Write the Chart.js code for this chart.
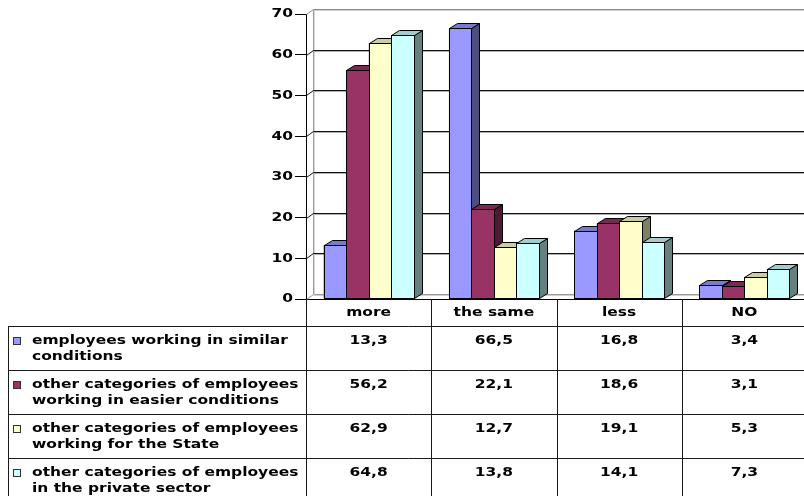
<!DOCTYPE html>
<html>
<head>
<meta charset="utf-8">
<script src="https://cdn.jsdelivr.net/npm/chart.js@4.4.1/dist/chart.umd.min.js"></script>
<style>
html,body{margin:0;padding:0;overflow:hidden;background:#fff;width:804px;height:496px}
canvas{display:block}
</style>
</head>
<body>
<canvas id="c" width="808" height="496"></canvas>
<script>
// ---- data ----
const categories = ['more', 'the same', 'less', 'NO'];
const seriesNames = [
  ['employees working in similar', 'conditions'],
  ['other categories of employees', 'working in easier conditions'],
  ['other categories of employees', 'working for the State'],
  ['other categories of employees', 'in the private sector']
];
const similarConditions = [13.3, 66.5, 16.8, 3.4];
const easierConditions  = [56.2, 22.1, 18.6, 3.1];
const workingForState   = [62.9, 12.7, 19.1, 5.3];
const privateSector     = [64.8, 13.8, 14.1, 7.3];
const yMin = 0, yMax = 70, yStep = 10;
const seriesColors = ['#9999FF', '#993366', '#FFFFCC', '#CCFFFF'];

// ---- helpers ----
function shade(hex, f) {
  const n = parseInt(hex.slice(1), 16);
  const r = Math.round(((n >> 16) & 255) * f), g = Math.round(((n >> 8) & 255) * f), b = Math.round((n & 255) * f);
  return 'rgb(' + r + ',' + g + ',' + b + ')';
}
const FONT = 'bold 13px "DejaVu Sans"';
const SX = 1.19;
function sText(ctx, s, x, y, align) {
  ctx.save();
  ctx.translate(x, y);
  ctx.scale(SX, 1);
  ctx.font = FONT;
  ctx.fillStyle = '#000';
  ctx.textAlign = align;
  ctx.textBaseline = 'middle';
  ctx.fillText(s, 0, 0);
  ctx.restore();
}
function fmt(v) { return v.toFixed(1).replace('.', ','); }

const seriesValues = [similarConditions, easierConditions, workingForState, privateSector];

const threeD = {
  id: 'threeD',
  beforeDatasetsDraw(chart) {
    const { ctx, chartArea: a, scales: { y } } = chart;
    const dx = 7, dy = 5;
    ctx.save();
    ctx.lineWidth = 1;
    const y0 = Math.round(y.getPixelForValue(0)) + 0.5;
    const yT = Math.round(y.getPixelForValue(yMax)) + 0.5;
    const L = a.left + 0.5;
    // floor
    ctx.strokeStyle = '#9a9a9a';
    ctx.beginPath();
    ctx.moveTo(L, y0); ctx.lineTo(L + dx, y0 - dy); ctx.lineTo(a.right + dx + 2, y0 - dy);
    ctx.stroke();
    ctx.strokeStyle = '#d0d0d0';
    ctx.beginPath(); ctx.moveTo(L + dx, y0 - dy + 1); ctx.lineTo(a.right + dx + 2, y0 - dy + 1); ctx.stroke();
    // left edge of back wall
    ctx.strokeStyle = '#9a9a9a';
    ctx.beginPath(); ctx.moveTo(L + dx, yT - dy); ctx.lineTo(L + dx, y0 - dy); ctx.stroke();
    ctx.strokeStyle = '#d8d8d8';
    ctx.beginPath(); ctx.moveTo(L + dx + 1, yT - dy); ctx.lineTo(L + dx + 1, y0 - dy); ctx.stroke();
    // grid lines on back wall
    y.ticks.forEach(t => {
      if (t.value === yMin) return;
      const py = Math.round(y.getPixelForValue(t.value)) + 0.5;
      const top = t.value === yMax;
      ctx.strokeStyle = top ? '#8c8c8c' : '#111';
      ctx.beginPath();
      ctx.moveTo(L, py); ctx.lineTo(L + dx, py - dy); ctx.lineTo(a.right + dx + 2, py - dy);
      ctx.stroke();
      ctx.strokeStyle = top ? '#d0d0d0' : '#b0b0b0';
      ctx.beginPath(); ctx.moveTo(L + dx, py - dy + 1); ctx.lineTo(a.right + dx + 2, py - dy + 1); ctx.stroke();
    });
    ctx.restore();
  },
  afterDatasetsDraw(chart) {
    const ctx = chart.ctx;
    const dx = 8, dy = 5;
    ctx.save();
    ctx.lineWidth = 1;
    ctx.strokeStyle = '#000';
    ctx.lineJoin = 'miter';
    for (let i = 0; i < categories.length; i++) {
      for (let s = 0; s < seriesValues.length; s++) {
        const bar = chart.getDatasetMeta(s).data[i];
        const base = seriesColors[s];
        const p = bar.getProps(['x', 'y', 'base', 'width'], true);
        const l = Math.round(p.x - p.width / 2) + 0.5, r = Math.round(p.x + p.width / 2) + 0.5;
        const t = Math.round(p.y) + 0.5, b = Math.round(p.base) - 0.5;
        // front
        ctx.fillStyle = base;
        ctx.fillRect(l, t, r - l, b - t);
        ctx.strokeRect(l, t, r - l, b - t);
        // side
        ctx.fillStyle = shade(base, 0.5);
        ctx.beginPath();
        ctx.moveTo(r, t); ctx.lineTo(r + dx, t - dy); ctx.lineTo(r + dx, b - dy); ctx.lineTo(r, b); ctx.closePath();
        ctx.fill(); ctx.stroke();
        // top
        ctx.fillStyle = shade(base, 0.8);
        ctx.beginPath();
        ctx.moveTo(l, t); ctx.lineTo(l + dx, t - dy); ctx.lineTo(r + dx, t - dy); ctx.lineTo(r, t); ctx.closePath();
        ctx.fill(); ctx.stroke();
      }
    }
    ctx.restore();
  },
  afterDraw(chart) {
    const { ctx, chartArea: a, scales: { x, y } } = chart;
    ctx.save();
    // y tick labels
    y.ticks.forEach(t => {
      sText(ctx, String(t.value), a.left - 13, y.getPixelForValue(t.value), 'right');
    });
    // data table
    const n = categories.length;
    const catW = (x.right - x.left) / n;
    const tableLeft = 8.5;
    const headTop = Math.round(y.getPixelForValue(0));
    const headBottom = headTop + 27;
    const rowH = 44;
    const bottom = chart.height + 2;
    ctx.strokeStyle = '#1a1a1a';
    ctx.lineWidth = 1;
    for (let i = 0; i < seriesNames.length; i++) {
      const ly = headBottom + i * rowH + 0.5;
      ctx.beginPath(); ctx.moveTo(tableLeft, ly); ctx.lineTo(x.right + 2, ly); ctx.stroke();
    }
    ctx.beginPath(); ctx.moveTo(tableLeft, headBottom); ctx.lineTo(tableLeft, bottom); ctx.stroke();
    for (let i = 0; i <= n; i++) {
      const vx = Math.round(x.left + i * catW) + 0.5;
      ctx.beginPath(); ctx.moveTo(vx, headTop); ctx.lineTo(vx, bottom); ctx.stroke();
    }
    categories.forEach((c, i) => {
      sText(ctx, c, x.getPixelForValue(i), headTop + 14, 'center');
    });
    seriesNames.forEach((lines, s) => {
      const rt = headBottom + s * rowH;
      const l1 = rt + 15, l2 = rt + 31;
      ctx.fillStyle = seriesColors[s];
      ctx.fillRect(13, l1 - 4, 8, 8);
      ctx.strokeStyle = '#333';
      ctx.strokeRect(13.5, l1 - 3.5, 7, 7);
      sText(ctx, lines[0], 32, l1, 'left');
      sText(ctx, lines[1], 32, l2, 'left');
      seriesValues[s].forEach((v, i) => {
        sText(ctx, fmt(v), x.getPixelForValue(i), l1, 'center');
      });
    });
    ctx.restore();
  }
};

new Chart(document.getElementById('c'), {
  type: 'bar',
  data: {
    labels: categories,
    datasets: seriesNames.map((nm, i) => ({
      label: nm.join(' '),
      data: seriesValues[i],
      backgroundColor: seriesColors[i],
      borderColor: '#000',
      borderWidth: 1,
      borderSkipped: false,
      barPercentage: 1,
      categoryPercentage: 0.72
    }))
  },
  options: {
    responsive: false,
    devicePixelRatio: 1,
    animation: false,
    layout: { padding: { left: 0, top: 14, right: 1, bottom: 0 } },
    plugins: { legend: { display: false }, tooltip: { enabled: false } },
    scales: {
      x: {
        ticks: { display: false },
        grid: { display: false, drawTicks: false },
        border: { display: true, color: '#000', width: 1 },
        afterFit(s) { s.height = 197; }
      },
      y: {
        min: yMin, max: yMax,
        ticks: { display: false, stepSize: yStep },
        grid: { drawOnChartArea: false, drawTicks: true, tickLength: 11, tickColor: '#000', tickWidth: 1 },
        border: { display: true, color: '#000', width: 1 },
        afterFit(s) { s.width = 306; }
      }
    }
  },
  plugins: [threeD]
});
</script>
</body>
</html>
